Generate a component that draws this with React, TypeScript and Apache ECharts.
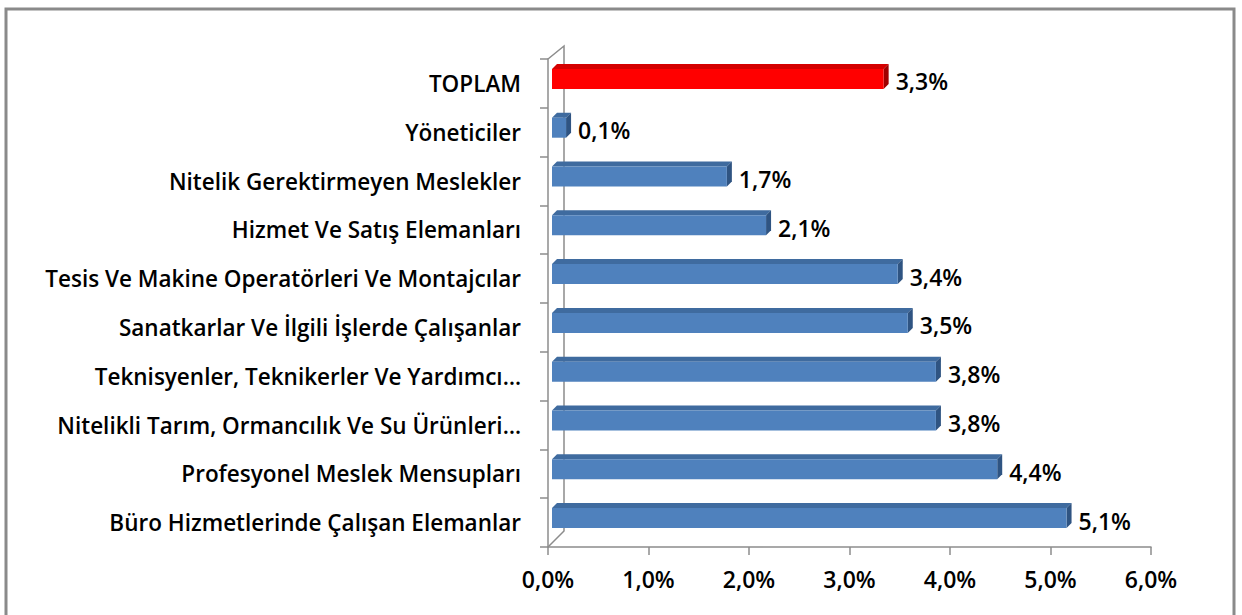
import React, { useEffect, useRef } from "react";
import * as echarts from "echarts";

const categories = [
  "TOPLAM",
  "Yöneticiler",
  "Nitelik Gerektirmeyen Meslekler",
  "Hizmet Ve Satış Elemanları",
  "Tesis Ve Makine Operatörleri Ve Montajcılar",
  "Sanatkarlar Ve İlgili İşlerde Çalışanlar",
  "Teknisyenler, Teknikerler Ve Yardımcı…",
  "Nitelikli Tarım, Ormancılık Ve Su Ürünleri…",
  "Profesyonel Meslek Mensupları",
  "Büro Hizmetlerinde Çalışan Elemanlar",
];
const values = [3.3, 0.14, 1.74, 2.13, 3.44, 3.54, 3.82, 3.82, 4.43, 5.12];
const highlight = [true, false, false, false, false, false, false, false, false, false];
const xTicks = [0, 1, 2, 3, 4, 5, 6];

const FONT = "'Open Sans', 'Liberation Sans', sans-serif";
const fmt = (v: number) => v.toFixed(1).replace(".", ",") + "%";

export default function App() {
  const ref = useRef<HTMLDivElement>(null);
  useEffect(() => {
    if (!ref.current) return;
    const chart = echarts.init(ref.current, undefined, { renderer: "svg" });
    const gridL = 548, gridR = 1151, gridT = 59, gridB = 547;
    const wall = 16;
    const axisColor = "#8c8c8c";
    chart.setOption({
      animation: false,
      backgroundColor: "#ffffff",
      grid: { left: gridL, right: 1242 - gridR, top: gridT, bottom: 615 - gridB, containLabel: false },
      xAxis: {
        type: "value",
        min: xTicks[0],
        max: xTicks[xTicks.length - 1],
        interval: 1,
        splitLine: { show: false },
        axisLine: { show: true, lineStyle: { color: axisColor, width: 1.5 } },
        axisTick: { show: true, length: 8, lineStyle: { color: axisColor, width: 1.5 } },
        axisLabel: {
          formatter: (v: number) => fmt(v),
          color: "#000",
          fontFamily: FONT,
          fontWeight: 600,
          fontSize: 23,
          margin: 20,
        },
      },
      yAxis: {
        type: "category",
        data: categories,
        inverse: true,
        axisLine: { show: true, lineStyle: { color: axisColor, width: 1.5 } },
        axisTick: { show: true, length: 8, lineStyle: { color: axisColor, width: 1.5 } },
        axisLabel: {
          color: "#000",
          fontFamily: FONT,
          fontWeight: 600,
          fontSize: 22.5,
          margin: 27,
        },
      },
      graphic: [
        {
          type: "rect",
          shape: { x: 6, y: 9, width: 1228, height: 640 },
          style: { fill: "none", stroke: "#8a8a8a", lineWidth: 3 },
          silent: true,
        },
        {
          type: "polyline",
          shape: {
            points: [
              [gridL, gridT],
              [gridL + wall, gridT - wall + 3],
              [gridL + wall, gridB - wall],
              [gridL, gridB],
            ],
          },
          style: { stroke: axisColor, lineWidth: 1.5, fill: "none" },
          silent: true,
        },
      ],
      series: [
        {
          type: "custom",
          encode: { x: 1, y: 0 },
          data: values.map((v, i) => [i, v]),
          renderItem: (params: any, api: any) => {
            const idx = api.value(0);
            const val = api.value(1);
            const p0 = api.coord([0, idx]);
            const p1 = api.coord([val, idx]);
            const band = api.size([0, 1])[1];
            const h = band * 0.41;
            const ox = 4, oy = -4.5, d = 5;
            const x0 = p0[0] + ox;
            const x1 = p1[0] + ox;
            const yc = p0[1] + oy;
            const yt = yc - h / 2;
            const yb = yc + h / 2;
            const red = highlight[idx];
            const front = red ? "#ff0000" : "#4f81bd";
            const top = red ? "#d40000" : "#3f6b9f";
            const side = red ? "#a00000" : "#2f5482";
            return {
              type: "group",
              children: [
                {
                  type: "polygon",
                  shape: { points: [[x0, yt], [x0 + d, yt - d], [x1 + d, yt - d], [x1, yt]] },
                  style: { fill: top },
                },
                {
                  type: "polygon",
                  shape: { points: [[x1, yt], [x1 + d, yt - d], [x1 + d, yb - d], [x1, yb]] },
                  style: { fill: side },
                },
                {
                  type: "rect",
                  shape: { x: x0, y: yt, width: x1 - x0, height: h },
                  style: { fill: front },
                },
                {
                  type: "text",
                  style: {
                    x: x1 + d + 7,
                    y: yc + 2.5,
                    text: fmt(val),
                    fill: "#000",
                    font: `600 23px ${FONT}`,
                    verticalAlign: "middle",
                    align: "left",
                  },
                },
              ],
            };
          },
        },
      ],
    });
    return () => chart.dispose();
  }, []);
  return (
    <div
      ref={ref}
      style={{ position: "fixed", left: 0, top: 0, width: 1242, height: 615 }}
    />
  );
}
